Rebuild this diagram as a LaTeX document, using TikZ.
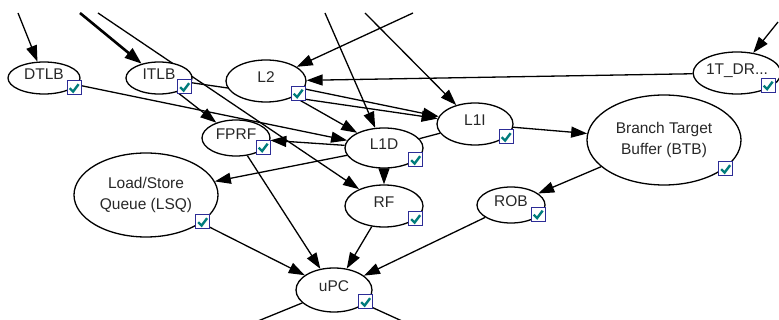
\documentclass[tikz,border=0pt]{standalone}
\usepackage{fontspec}
\setmainfont{Liberation Sans}
\usetikzlibrary{arrows.meta,shapes.geometric}
\pgfdeclarelayer{backdrop}
\pgfdeclarelayer{edges}
\pgfsetlayers{backdrop,edges,main}
\definecolor{boxblue}{RGB}{44,44,150}
\definecolor{checkteal}{RGB}{0,124,124}
\definecolor{labelgray}{RGB}{40,40,40}

\begin{document}
\begin{tikzpicture}[x=1pt,y=-1pt,
  unit/.style={ellipse, draw, line width=1.3pt, fill=white, inner sep=0pt,
    align=center, text=labelgray, font=\fontsize{15.5}{20.5}\selectfont},
  oneline/.style={text height=11pt, text depth=7pt},
  link/.style={line width=1.3pt, -{Triangle[length=16pt,width=11pt]}},
  heavylink/.style={line width=2.6pt, -{Triangle[length=17pt,width=12pt]}},
  plainlink/.style={line width=1.3pt},
  chkbox/.style={draw=boxblue, fill=white, line width=1pt, minimum size=14pt, inner sep=0pt},
  chk/.pic={
    \node[chkbox] (-box) {};
    \draw[checkteal, line width=2.4pt] (-4.3,0.2) -- (-0.9,3.6) -- (4.6,-3.8);
  }
]
\begin{pgfonlayer}{backdrop}
  \fill[white] (0,0) rectangle (779,320);
\end{pgfonlayer}
\useasboundingbox (0,0) rectangle (779,320);

% units of the pipeline
\node[unit, oneline, minimum width=72pt, minimum height=32pt] (DTLB) at (44,78) {DTLB};
\node[unit, oneline, minimum width=66pt, minimum height=32pt] (ITLB) at (159,78) {ITLB};
\node[unit, oneline, minimum width=80pt, minimum height=42pt] (L2) at (266,81) {L2};
\node[unit, oneline, minimum width=76pt, minimum height=42pt] (L1I) at (475,124) {L1I};
\node[unit, oneline, minimum width=78pt, minimum height=40pt] (L1D) at (384,148) {L1D};
\node[unit, oneline, minimum width=68pt, minimum height=36pt] (FPRF) at (236,138) {FPRF};
\node[unit, minimum width=144pt, minimum height=84pt] (LSQ) at (146,195) {Load/Store\\Queue (LSQ)};
\node[unit, oneline, minimum width=78pt, minimum height=42pt] (RF) at (384,206) {RF};
\node[unit, oneline, minimum width=68pt, minimum height=36pt] (ROB) at (511,205) {ROB};
\node[unit, oneline, minimum width=76pt, minimum height=44pt] (uPC) at (334,290) {uPC};
\node[unit, minimum width=154pt, minimum height=90pt] (BTB) at (664,140) {Branch Target\\Buffer (BTB)};
\node[unit, oneline, minimum width=78pt, minimum height=42pt] (TDR) at (737,73) {1T\_DR...};

% enable checkboxes
\pic (cDTLB) at (74,88) {chk};
\pic (cITLB) at (184.5,87) {chk};
\pic (cL2) at (298,93.5) {chk};
\pic (cL1I) at (506,137) {chk};
\pic (cL1D) at (415.5,160) {chk};
\pic (cFPRF) at (263,147.5) {chk};
\pic (cLSQ) at (202.5,222) {chk};
\pic (cRF) at (415.5,219) {chk};
\pic (cROB) at (538,214.5) {chk};
\pic (cuPC) at (365.5,302) {chk};
\pic (cBTB) at (725.5,169) {chk};
\pic (cTDR) at (768,85.5) {chk};

% loose ends of edges leaving the drawing
\coordinate (srcA) at (18,13);
\coordinate (srcB) at (80,13);
\coordinate (srcC) at (98,13);
\coordinate (srcD) at (325,13);
\coordinate (srcE) at (365,13);
\coordinate (srcF) at (413,13);
\coordinate (srcG) at (778,22);
\coordinate (sinkA) at (258,321);
\coordinate (sinkB) at (402,321);

\begin{pgfonlayer}{edges}
  \draw[link] (srcA) -- (DTLB);
  \draw[heavylink] (srcB) -- (ITLB);
  \draw[link] (srcC) -- (RF);
  \draw[link] (srcD) -- (L1D);
  \draw[link] (srcE) -- (L1I);
  \draw[link] (srcF) -- (L2);
  \draw[link] (srcG) -- (TDR);

  \draw[link] (DTLB) -- (L1D);
  \draw[link] (ITLB) -- (FPRF);
  \draw[link] (ITLB) -- (L1I);
  \draw[link] (L2) -- (L1D);
  \draw[link] (L2) -- (L1I);
  \draw[link] (TDR) -- (L2);
  \draw[link] (L1D) -- (FPRF);
  \draw[link] (L1D) -- (LSQ);
  \draw[link] (L1D) -- (RF);
  \draw[plainlink] (L1D) -- (L1I);
  \draw[link] (L1I) -- (BTB);
  \draw[link] (BTB) -- (ROB);
  \draw[link] (FPRF) -- (uPC);
  \draw[link] (LSQ) -- (uPC);
  \draw[link] (RF) -- (uPC);
  \draw[link] (ROB) -- (uPC);
  \draw[plainlink] (uPC) -- (sinkA);
  \draw[plainlink] (uPC) -- (sinkB);
\end{pgfonlayer}
\end{tikzpicture}
\end{document}
